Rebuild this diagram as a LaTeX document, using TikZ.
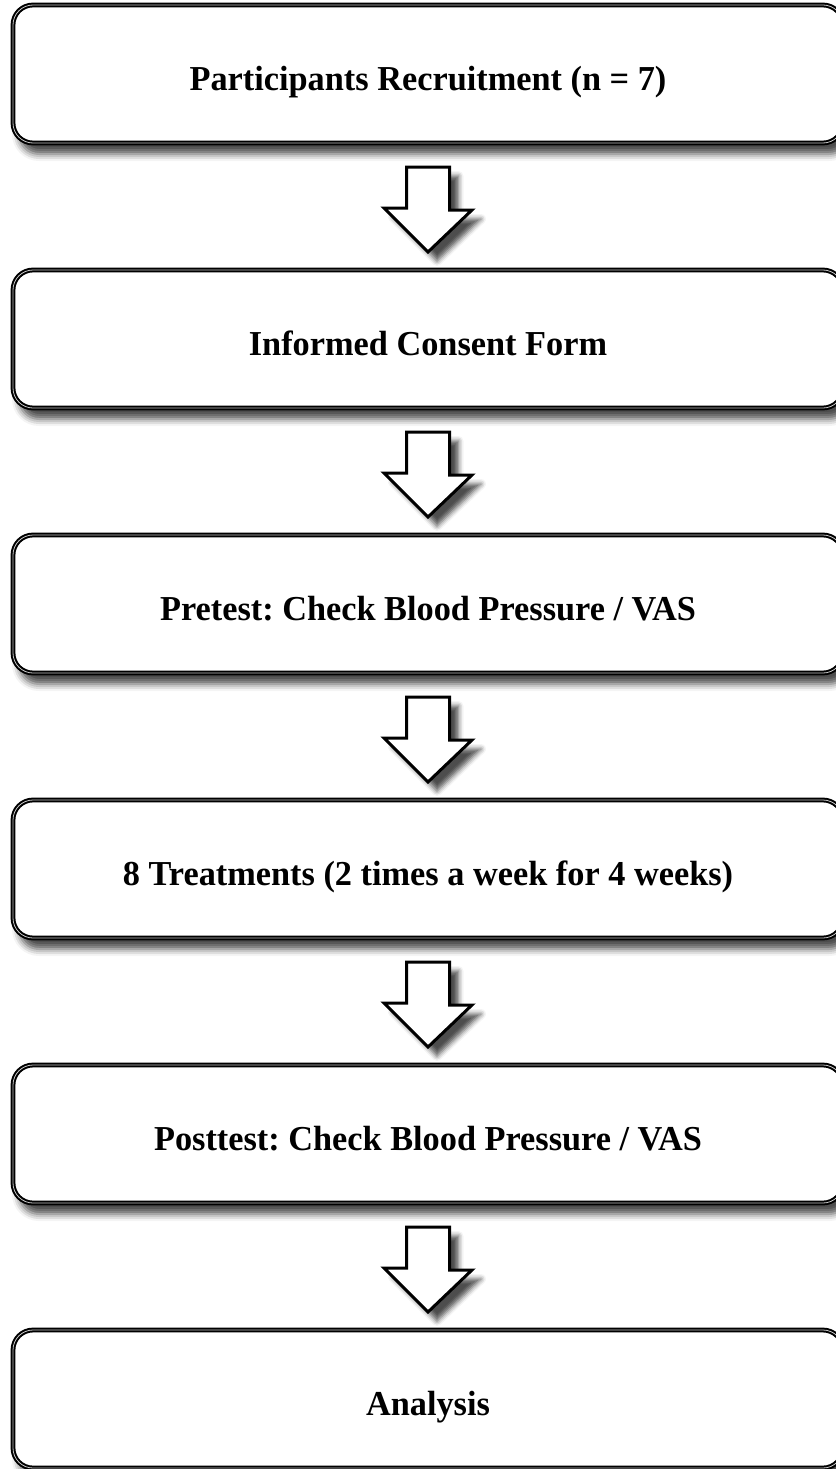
\documentclass[tikz,border=0pt]{standalone}
\usepackage{fontspec}
\setmainfont{Liberation Serif}[FakeStretch=0.98]
\usetikzlibrary{positioning,shadows,shadows.blur,calc}

\begin{document}
\frenchspacing
\begin{tikzpicture}[x=1pt,y=-1pt]
\tikzstyle{stage} = [draw=black,fill=white,shape=rectangle,rounded corners=20pt,
  line width=2pt,double=gray!45,double distance=0.8pt,
  minimum width=830pt,minimum height=138pt,inner sep=0pt,
  text height=38pt,text depth=5pt,
  font=\fontsize{35}{40}\selectfont\bfseries,
  blur shadow={shadow xshift=6pt,shadow yshift=-11pt,shadow blur radius=7pt,shadow opacity=70}]
\tikzstyle{flow} = [draw=black,fill=white,line width=3pt,miter limit=10,
  blur shadow={shadow xshift=9pt,shadow yshift=-9pt,shadow blur radius=5pt,shadow opacity=70}]
\useasboundingbox (0,0) rectangle (835,1469);
\node[stage] (recruit)  at (428,74)   {Participants Recruitment (n = 7)};
\node[stage] (consent)  at (428,339)  {Informed Consent Form};
\node[stage] (pretest)  at (428,604)  {Pretest: Check Blood Pressure / VAS};
\node[stage] (treat)    at (428,869)  {8 Treatments (2 times a week for 4 weeks)};
\node[stage] (posttest) at (428,1134) {Posttest: Check Blood Pressure / VAS};
\node[stage] (analysis) at (428,1399) {Analysis};
% block arrows between the stages
\foreach \a/\b in {recruit/consent,consent/pretest,pretest/treat,treat/posttest,posttest/analysis}
  \draw[flow] ([shift={(-21.5,23)}]\a.south) -- ++(43,0) -- ++(0,43) -- ++(22.5,0)
    -- ([yshift=17pt]\b.north) -- ++(-44,-44) -- ++(22.5,0) -- cycle;
\end{tikzpicture}
\end{document}
